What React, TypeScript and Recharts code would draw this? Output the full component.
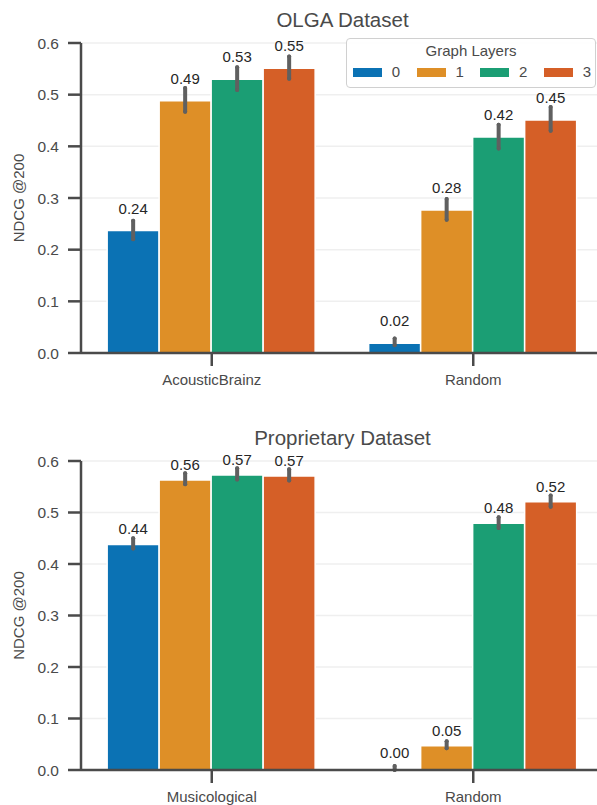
import { BarChart, Bar, XAxis, YAxis, CartesianGrid, ErrorBar, LabelList, Label } from "recharts";

const FONT = "'Liberation Sans', Arial, sans-serif";
const INK = "#4a4a4a";

const LAYERS = ["0", "1", "2", "3"];
const COLORS = ["#0b72b4", "#de8f27", "#1b9e74", "#d55f27"];
const Y_TICKS = [0, 0.1, 0.2, 0.3, 0.4, 0.5, 0.6];

// OLGA dataset, [layer][category]
const OLGA_CATEGORIES = ["AcousticBrainz", "Random"];
const OLGA_MEAN = [
  [0.237, 0.019],
  [0.488, 0.277],
  [0.53, 0.418],
  [0.551, 0.451],
];
const OLGA_LOW = [
  [0.22, 0.015],
  [0.467, 0.258],
  [0.509, 0.396],
  [0.531, 0.43],
];
const OLGA_HIGH = [
  [0.256, 0.028],
  [0.513, 0.298],
  [0.553, 0.442],
  [0.574, 0.476],
];

// Proprietary dataset, [layer][category]
const PROP_CATEGORIES = ["Musicological", "Random"];
const PROP_MEAN = [
  [0.438, 0.003],
  [0.563, 0.047],
  [0.573, 0.479],
  [0.571, 0.521],
];
const PROP_LOW = [
  [0.43, 0.0],
  [0.555, 0.042],
  [0.564, 0.47],
  [0.562, 0.511],
];
const PROP_HIGH = [
  [0.45, 0.008],
  [0.576, 0.056],
  [0.586, 0.491],
  [0.584, 0.533],
];

function buildRows(cats: string[], mean: number[][], low: number[][], high: number[][]) {
  return cats.map((cat, c) => {
    const row: Record<string, any> = { cat };
    LAYERS.forEach((_, l) => {
      row[`m${l}`] = mean[l][c];
      row[`e${l}`] = [mean[l][c] - low[l][c], high[l][c] - mean[l][c]];
    });
    return row;
  });
}

function YLabel({ viewBox }: any) {
  const cx = 18;
  const cy = viewBox.y + viewBox.height / 2;
  return (
    <text
      x={cx}
      y={cy}
      transform={`rotate(-90, ${cx}, ${cy})`}
      textAnchor="middle"
      dominantBaseline="central"
      fill={INK}
      fontSize={15}
      fontFamily={FONT}
    >
      NDCG @200
    </text>
  );
}

function GraphLayersLegend() {
  return (
    <div
      style={{
        position: "absolute",
        left: 346,
        top: 38,
        width: 250,
        height: 50,
        boxSizing: "border-box",
        border: "1.5px solid #d0d0d0",
        borderRadius: 4,
        background: "rgba(255,255,255,0.85)",
        fontFamily: FONT,
        color: INK,
      }}
    >
      <div style={{ position: "absolute", top: 2, left: 0, width: "100%", textAlign: "center", fontSize: 15, lineHeight: "20px" }}>
        Graph Layers
      </div>
      {LAYERS.map((name, i) => (
        <div key={name}>
          <div
            style={{
              position: "absolute",
              left: 6 + i * 63.6,
              top: 29,
              width: 29,
              height: 9,
              background: COLORS[i],
            }}
          />
          <div
            style={{
              position: "absolute",
              left: 42 + i * 63.6,
              top: 23,
              width: 14,
              textAlign: "center",
              fontSize: 15,
              lineHeight: "20px",
            }}
          >
            {name}
          </div>
        </div>
      ))}
    </div>
  );
}

interface PanelProps {
  title: string;
  top: number;
  height: number;
  axisHeight: number;
  labelOffset: number;
  rows: Record<string, any>[];
}

function Panel({ title, top, height, axisHeight, labelOffset, rows }: PanelProps) {
  return (
    <div style={{ position: "absolute", left: 0, top, width: 620, height }}>
      <div
        style={{
          position: "absolute",
          left: 81,
          top: 7,
          width: 523,
          textAlign: "center",
          fontFamily: FONT,
          fontSize: 20.5,
          lineHeight: "26px",
          color: INK,
        }}
      >
        {title}
      </div>
      <BarChart
        width={620}
        height={height}
        data={rows}
        margin={{ top: 43, right: 16, bottom: 0, left: 0 }}
        barCategoryGap="10%"
        barGap={0}
      >
        <CartesianGrid vertical={false} stroke="#efefef" strokeWidth={1.5} />
        <XAxis
          dataKey="cat"
          height={axisHeight}
          tickSize={13}
          tickMargin={8}
          tick={{ fill: INK, fontSize: 15, fontFamily: FONT }}
          axisLine={{ stroke: INK, strokeWidth: 2.5 }}
          tickLine={{ stroke: INK, strokeWidth: 2.5 }}
        />
        <YAxis
          width={81}
          domain={[0, 0.6]}
          ticks={Y_TICKS}
          tickFormatter={(v: number) => v.toFixed(1)}
          tickSize={13}
          tickMargin={9}
          tick={{ fill: INK, fontSize: 15.5, fontFamily: FONT }}
          axisLine={{ stroke: INK, strokeWidth: 2.5 }}
          tickLine={{ stroke: INK, strokeWidth: 2.5 }}
        >
          <Label content={<YLabel />} />
        </YAxis>
        {LAYERS.map((name, i) => (
          <Bar
            key={name}
            dataKey={`m${i}`}
            fill={COLORS[i]}
            stroke="#ffffff"
            strokeWidth={1.5}
            isAnimationActive={false}
          >
            <ErrorBar
              dataKey={`e${i}`}
              direction="y"
              width={0}
              stroke="#606060"
              strokeWidth={4}
              strokeLinecap="round"
            />
            <LabelList
              dataKey={`m${i}`}
              position="top"
              offset={labelOffset}
              formatter={(v: any) => Number(v).toFixed(2)}
              fill="#262626"
              fontSize={15}
              fontFamily={FONT}
            />
          </Bar>
        ))}
      </BarChart>
    </div>
  );
}

export default function App() {
  const olgaRows = buildRows(OLGA_CATEGORIES, OLGA_MEAN, OLGA_LOW, OLGA_HIGH);
  const propRows = buildRows(PROP_CATEGORIES, PROP_MEAN, PROP_LOW, PROP_HIGH);
  return (
    <div
      style={{
        position: "absolute",
        left: 0,
        top: 0,
        width: 597,
        height: 805,
        overflow: "hidden",
        background: "#ffffff",
      }}
    >
      <Panel title="OLGA Dataset" top={0} height={400} axisHeight={47} labelOffset={17} rows={olgaRows} />
      <Panel title="Proprietary Dataset" top={418} height={387} axisHeight={35} labelOffset={10} rows={propRows} />
      <GraphLayersLegend />
    </div>
  );
}
